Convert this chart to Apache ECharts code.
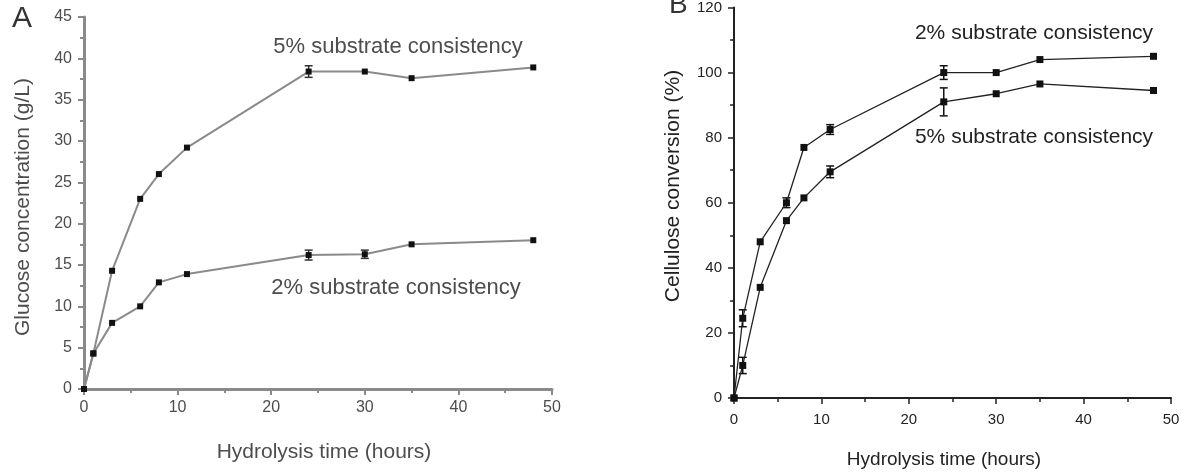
<!DOCTYPE html>
<html>
<head>
<meta charset="utf-8">
<script src="https://cdn.jsdelivr.net/npm/echarts@6/dist/echarts.min.js"></script>
<style>html,body{margin:0;padding:0;background:#fff}#c{width:1184px;height:475px}</style>
</head>
<body>
<div id="c"></div>
<script>
// ---- data ----
const hours = [0, 1, 3, 6, 8, 11, 24, 30, 35, 48];
// Panel A: glucose concentration (g/L)
const glucose5 = [0, 4.3, 14.3, 23, 26, 29.2, 38.4, 38.4, 37.6, 38.9];
const glucose2 = [0, 4.3, 8, 10, 12.9, 13.9, 16.2, 16.3, 17.5, 18];
const glucose5Err = [0, 0, 0, 0, 0, 0, 0.7, 0, 0, 0];
const glucose2Err = [0, 0, 0, 0, 0, 0, 0.6, 0.5, 0, 0];
// Panel B: cellulose conversion (%)
const conv2 = [0, 24.5, 48, 60, 77, 82.5, 100, 100, 104, 105];
const conv5 = [0, 10, 34, 54.5, 61.5, 69.5, 91, 93.5, 96.5, 94.5];
const conv2Err = [0, 2.6, 0, 1.5, 0, 1.5, 2.1, 0, 0, 0];
const conv5Err = [0, 2.5, 0, 0, 0, 1.8, 4.3, 0, 0, 0];
// tick labels
const xTicks = [0, 10, 20, 30, 40, 50];
const yTicksA = [0, 5, 10, 15, 20, 25, 30, 35, 40, 45];
const yTicksB = [0, 20, 40, 60, 80, 100, 120];

const pair = (xs, ys) => xs.map((x, i) => [x, ys[i]]);
const errs = (xs, ys, es) => xs.map((x, i) => [x, ys[i] - es[i], ys[i] + es[i]]).filter((d, i) => es[i] > 0);

const grayA = '#8a8a8a', textA = '#4d4d4d', darkB = '#222';
const font = 'Liberation Sans, Arial, sans-serif';

function errSeries(xi, yi, data, color, w) {
  return {
    type: 'custom', xAxisIndex: xi, yAxisIndex: yi, data: data, z: 3,
    renderItem: function (params, api) {
      const x = api.value(0);
      const lo = api.coord([x, api.value(1)]);
      const hi = api.coord([x, api.value(2)]);
      const c = 4;
      return {
        type: 'group',
        children: [
          {type: 'line', shape: {x1: lo[0], y1: lo[1], x2: hi[0], y2: hi[1]}, style: {stroke: color, lineWidth: w}},
          {type: 'line', shape: {x1: lo[0] - c, y1: lo[1], x2: lo[0] + c, y2: lo[1]}, style: {stroke: color, lineWidth: w}},
          {type: 'line', shape: {x1: hi[0] - c, y1: hi[1], x2: hi[0] + c, y2: hi[1]}, style: {stroke: color, lineWidth: w}}
        ]
      };
    }
  };
}

function xAx(gi, color, lw, fs, margin) {
  return {
    type: 'value', gridIndex: gi, min: xTicks[0], max: xTicks[xTicks.length - 1], interval: xTicks[1] - xTicks[0],
    axisLine: {show: true, onZero: false, lineStyle: {color: color, width: lw}},
    axisTick: {show: true, length: 6, lineStyle: {color: color, width: lw > 2 ? 2 : 1.5}},
    minorTick: {show: true, splitNumber: 2, length: 4, lineStyle: {color: color, width: lw > 2 ? 2 : 1.5}},
    splitLine: {show: false}, minorSplitLine: {show: false},
    axisLabel: {color: gi === 0 ? textA : darkB, fontSize: fs, fontFamily: font, margin: margin, showMinLabel: true, showMaxLabel: true}
  };
}
function yAx(gi, ticks, color, lw, fs, margin) {
  return {
    type: 'value', gridIndex: gi, min: ticks[0], max: ticks[ticks.length - 1], interval: ticks[1] - ticks[0],
    axisLine: {show: true, onZero: false, lineStyle: {color: color, width: lw}},
    axisTick: {show: true, length: 6, lineStyle: {color: color, width: lw > 2 ? 2 : 1.5}},
    minorTick: {show: true, splitNumber: 2, length: 4, lineStyle: {color: color, width: lw > 2 ? 2 : 1.5}},
    splitLine: {show: false}, minorSplitLine: {show: false},
    axisLabel: {color: gi === 0 ? textA : darkB, fontSize: fs, fontFamily: font, margin: margin, showMinLabel: true, showMaxLabel: true}
  };
}

const chart = echarts.init(document.getElementById('c'), null, {renderer: 'canvas'});
chart.setOption({
  animation: false,
  backgroundColor: '#fff',
  grid: [
    {left: 84, top: 17, width: 468, height: 372},
    {left: 734, top: 5, width: 437, height: 393}
  ],
  xAxis: [xAx(0, grayA, 3, 16, 11), xAx(1, darkB, 2, 15, 14)],
  yAxis: [yAx(0, yTicksA, grayA, 3, 16, 12), yAx(1, yTicksB, darkB, 2, 15, 12)],
  series: [
    {type: 'line', xAxisIndex: 0, yAxisIndex: 0, data: pair(hours, glucose5), symbol: 'rect', symbolSize: 6,
      lineStyle: {color: grayA, width: 2}, itemStyle: {color: '#111'}, z: 4},
    {type: 'line', xAxisIndex: 0, yAxisIndex: 0, data: pair(hours, glucose2), symbol: 'rect', symbolSize: 6,
      lineStyle: {color: grayA, width: 2}, itemStyle: {color: '#111'}, z: 4},
    errSeries(0, 0, errs(hours, glucose5, glucose5Err), '#333', 1.5),
    errSeries(0, 0, errs(hours, glucose2, glucose2Err), '#333', 1.5),
    {type: 'line', xAxisIndex: 1, yAxisIndex: 1, data: pair(hours, conv2), symbol: 'rect', symbolSize: 7,
      lineStyle: {color: darkB, width: 1.3}, itemStyle: {color: '#111'}, z: 4},
    {type: 'line', xAxisIndex: 1, yAxisIndex: 1, data: pair(hours, conv5), symbol: 'rect', symbolSize: 7,
      lineStyle: {color: darkB, width: 1.3}, itemStyle: {color: '#111'}, z: 4},
    errSeries(1, 1, errs(hours, conv2, conv2Err), '#111', 1.5),
    errSeries(1, 1, errs(hours, conv5, conv5Err), '#111', 1.5)
  ],
  graphic: [
    {type: 'text', left: 12, top: 4, style: {text: 'A', font: '30px ' + font, fill: '#333'}},
    {type: 'text', left: 669, top: -9, style: {text: 'B', font: '28px ' + font, fill: '#333'}},
    {type: 'text', x: 398, y: 47, style: {text: '5% substrate consistency', font: '22px ' + font, fill: textA, align: 'center', verticalAlign: 'middle'}},
    {type: 'text', x: 396, y: 288, style: {text: '2% substrate consistency', font: '22px ' + font, fill: textA, align: 'center', verticalAlign: 'middle'}},
    {type: 'text', x: 324, y: 452, style: {text: 'Hydrolysis time (hours)', font: '21px ' + font, fill: textA, align: 'center', verticalAlign: 'middle'}},
    {type: 'text', x: 23, y: 207, rotation: Math.PI / 2, style: {text: 'Glucose concentration (g/L)', font: '21px ' + font, fill: textA, align: 'center', verticalAlign: 'middle'}},
    {type: 'text', x: 1034, y: 33, style: {text: '2% substrate consistency', font: '21px ' + font, fill: darkB, align: 'center', verticalAlign: 'middle'}},
    {type: 'text', x: 1034, y: 137, style: {text: '5% substrate consistency', font: '21px ' + font, fill: darkB, align: 'center', verticalAlign: 'middle'}},
    {type: 'text', x: 944, y: 460, style: {text: 'Hydrolysis time (hours)', font: '19px ' + font, fill: darkB, align: 'center', verticalAlign: 'middle'}},
    {type: 'text', x: 673, y: 186, rotation: Math.PI / 2, style: {text: 'Cellulose conversion (%)', font: '21px ' + font, fill: darkB, align: 'center', verticalAlign: 'middle'}}
  ]
});
</script>
</body>
</html>
